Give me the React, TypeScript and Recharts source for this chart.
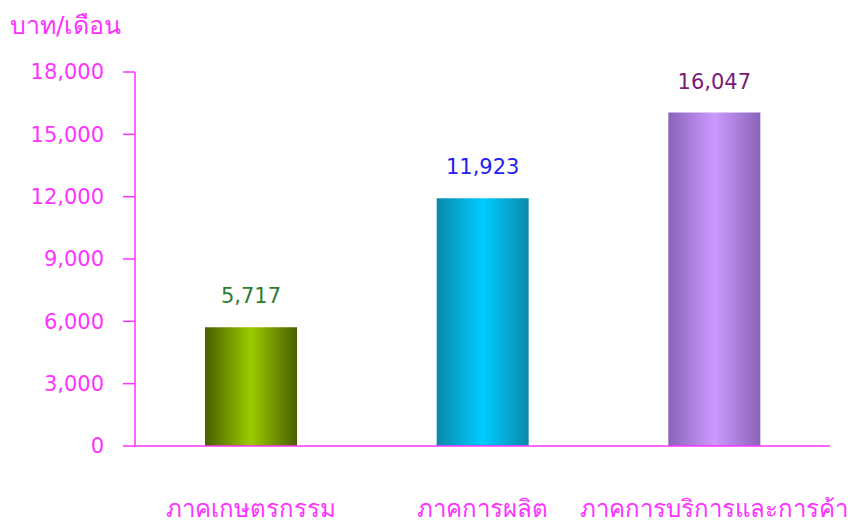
import React from 'react';
import { BarChart, Bar, XAxis, YAxis, Cell, LabelList } from 'recharts';

const categories = ['ภาคเกษตรกรรม', 'ภาคการผลิต', 'ภาคการบริการและการค้า'];
const incomes = [5717, 11923, 16047];
const yTicks = [0, 3000, 6000, 9000, 12000, 15000, 18000];
const unitTitle = 'บาท/เดือน';

const gradients = [
  { id: 'gGreen', edge: '#4b5e00', mid: '#99cc00' },
  { id: 'gBlue', edge: '#0a88ab', mid: '#00ccff' },
  { id: 'gPurple', edge: '#8a63b8', mid: '#cc99ff' },
];
const labelColors = ['#2e7d32', '#2222ee', '#7a1a7a'];

const data = categories.map((name, i) => ({ name, value: incomes[i] }));

const PINK = '#ff33ff';
const FONT = "Tahoma, 'DejaVu Sans', Verdana, sans-serif";

const fmt = (v: number) => v.toLocaleString('en-US');

const XTick = (props: any) => {
  const { x, payload } = props;
  return (
    <text x={x} y={517} textAnchor="middle" fill={PINK} fontSize={24} fontFamily={FONT}>
      {payload.value}
    </text>
  );
};

const ValueLabel = (props: any) => {
  const { x, y, width, value, index } = props;
  return (
    <text x={x + width / 2} y={y - 24} textAnchor="middle" fill={labelColors[index]} fontSize={21} fontFamily={FONT}>
      {fmt(value)}
    </text>
  );
};

export default function App() {
  return (
    <div style={{ position: 'absolute', left: 0, top: 0, width: 848, height: 524, background: '#fff' }}>
      <div style={{ position: 'absolute', left: 10, top: 5, color: PINK, fontSize: 25, fontFamily: FONT }}>{unitTitle}</div>
      <BarChart width={848} height={524} data={data} margin={{ top: 72, right: 18, bottom: 0, left: 0 }}>
        <defs>
          {gradients.map((g) => (
            <linearGradient key={g.id} id={g.id} x1="0" y1="0" x2="1" y2="0">
              <stop offset="0%" stopColor={g.edge} />
              <stop offset="50%" stopColor={g.mid} />
              <stop offset="100%" stopColor={g.edge} />
            </linearGradient>
          ))}
        </defs>
        <XAxis
          dataKey="name"
          tickLine={false}
          axisLine={{ stroke: PINK, strokeWidth: 1.5 }}
          tick={<XTick />}
          interval={0}
          height={78}
        />
        <YAxis
          domain={[0, 18000]}
          ticks={yTicks}
          tickFormatter={fmt}
          width={135}
          tickSize={12}
          tickMargin={19}
          axisLine={{ stroke: PINK, strokeWidth: 1.5 }}
          tickLine={{ stroke: PINK, strokeWidth: 1.5 }}
          tick={{ fill: PINK, fontSize: 21, fontFamily: FONT }}
        />
        <Bar dataKey="value" barSize={92} isAnimationActive={false}>
          {data.map((d, i) => (
            <Cell key={d.name} fill={`url(#${gradients[i].id})`} />
          ))}
          <LabelList dataKey="value" content={<ValueLabel />} />
        </Bar>
      </BarChart>
    </div>
  );
}
